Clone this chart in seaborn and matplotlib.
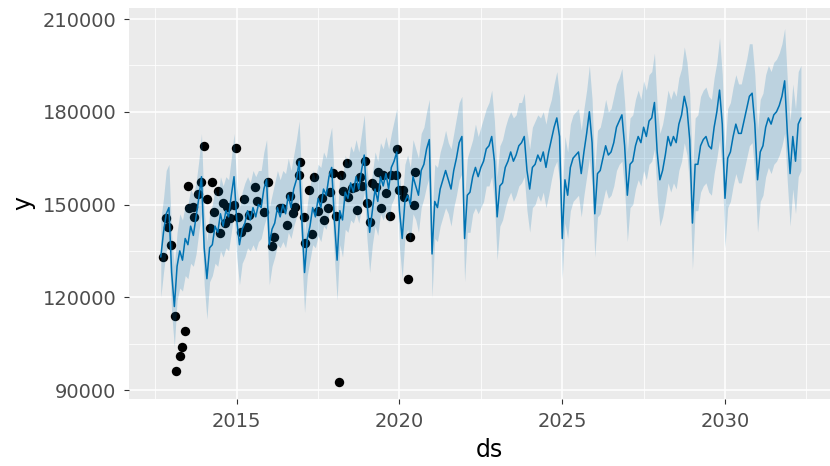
import numpy as np
import pandas as pd
import matplotlib
matplotlib.use("Agg")
import matplotlib.pyplot as plt
from matplotlib.ticker import FixedLocator, StrMethodFormatter
import seaborn as sns

# ---------------- data ----------------
# observed points: decimal year and value
obs_ds = [2012.735, 2012.835, 2012.887, 2012.966, 2013.088, 2013.140, 2013.262, 2013.314,
          2013.424, 2013.497, 2013.527, 2013.668, 2013.698, 2013.820, 2013.902, 2014.003,
          2014.085, 2014.177, 2014.229, 2014.290, 2014.412, 2014.482, 2014.564, 2014.643,
          2014.716, 2014.787, 2014.918, 2014.991, 2015.052, 2015.143, 2015.223, 2015.305,
          2015.375, 2015.558, 2015.631, 2015.832, 2015.954, 2016.088, 2016.159, 2016.320,
          2016.393, 2016.546, 2016.646, 2016.729, 2016.799, 2016.899, 2016.951, 2017.052,
          2017.104, 2017.235, 2017.308, 2017.387, 2017.509, 2017.613, 2017.683, 2017.814,
          2017.866, 2017.948, 2018.049, 2018.149, 2018.201, 2018.253, 2018.375, 2018.424,
          2018.527, 2018.628, 2018.710, 2018.780, 2018.851, 2018.933, 2019.003, 2019.085,
          2019.168, 2019.268, 2019.338, 2019.421, 2019.491, 2019.595, 2019.695, 2019.747,
          2019.878, 2019.918, 2020.000, 2020.101, 2020.152, 2020.253, 2020.335, 2020.436,
          2020.488]
obs_y = [133100, 145500, 142800, 136900, 114000, 96100, 101100, 104000,
         109100, 156000, 148800, 149100, 146000, 153400, 157200, 168900,
         151700, 142300, 157200, 147700, 154500, 140900, 150600, 143900,
         149300, 145500, 149800, 168400, 146000, 141200, 151700, 142600,
         146600, 155600, 151200, 147700, 157400, 136600, 139400, 149000,
         148800, 143400, 152700, 147100, 149300, 159500, 163800, 146000,
         137600, 154700, 140400, 159000, 147900, 152000, 145000, 149000,
         154100, 160100, 146400, 92700, 159500, 154400, 163300, 152300,
         155200, 155700, 148200, 158800, 156000, 164100, 150400, 144400,
         156800, 155700, 160600, 148800, 159500, 153800, 146400, 159500,
         159500, 167800, 154700, 154700, 152500, 125900, 139400, 149800,
         160600]

# monthly forecast, first month = September 2012 (values in thousands)
forecast_start = "2012-09-01"
yhat_k = [
    133, 141, 147, 149,                                          # 2012
    128, 117, 130, 135, 132, 139, 137, 143, 140, 146, 152, 159,  # 2013
    136, 126, 136, 137, 143, 141, 147, 143, 148, 146, 153, 159,  # 2014
    145, 137, 142, 144, 148, 145, 149, 146, 150, 149, 155, 158,  # 2015
    137, 142, 144, 149, 146, 150, 147, 153, 149, 155, 158, 164,  # 2016
    145, 128, 139, 143, 149, 146, 152, 149, 155, 153, 159, 162,  # 2017
    145, 132, 148, 145, 154, 152, 157, 154, 159, 155, 161, 166,  # 2018
    151, 141, 148, 155, 151, 159, 156, 160, 155, 162, 164, 167,  # 2019
    148, 139, 151, 153, 150, 159, 156, 153, 161, 163, 168, 171,  # 2020
    134, 151, 149, 155, 158, 161, 158, 155, 161, 165, 170, 172,  # 2021
    139, 153, 154, 159, 162, 159, 162, 164, 168, 169, 172, 164,  # 2022
    146, 156, 157, 162, 164, 167, 164, 166, 169, 170, 172, 161,  # 2023
    155, 162, 163, 166, 164, 167, 162, 167, 171, 175, 178, 172,  # 2024
    139, 158, 153, 162, 165, 166, 167, 160, 167, 173, 180, 170,  # 2025
    147, 160, 161, 165, 169, 166, 167, 170, 175, 177, 179, 169,  # 2026
    153, 163, 164, 169, 172, 170, 175, 172, 177, 178, 183, 167,  # 2027
    158, 161, 166, 172, 169, 172, 170, 176, 179, 185, 181, 171,  # 2028
    144, 163, 163, 169, 171, 172, 169, 168, 175, 180, 187, 176,  # 2029
    152, 165, 167, 172, 176, 173, 173, 177, 181, 185, 186, 176,  # 2030
    158, 167, 169, 175, 178, 176, 179, 180, 182, 185, 190, 173,  # 2031
    160, 172, 164, 176, 178,                                     # 2032
]
yhat_upper_k = [
    145, 152, 161, 163,
    140, 130, 141, 147, 145, 150, 150, 155, 153, 157, 164, 173,
    148, 138, 147, 150, 155, 152, 159, 156, 159, 158, 165, 173,
    156, 149, 154, 157, 159, 157, 161, 159, 161, 161, 167, 171,
    149, 153, 157, 161, 158, 161, 160, 165, 161, 166, 171, 177,
    157, 140, 150, 156, 161, 158, 163, 162, 167, 165, 171, 175,
    157, 144, 160, 158, 166, 163, 169, 167, 171, 167, 173, 179,
    162, 154, 160, 167, 164, 170, 168, 172, 168, 173, 177, 181,
    160, 151, 163, 166, 162, 171, 168, 165, 173, 175, 180, 184,
    146, 163, 162, 167, 170, 174, 170, 168, 173, 178, 183, 185,
    152, 165, 168, 171, 176, 172, 175, 178, 181, 183, 187, 177,
    159, 169, 171, 175, 178, 180, 178, 179, 183, 183, 186, 174,
    168, 175, 177, 179, 178, 180, 176, 181, 184, 189, 193, 185,
    153, 172, 167, 176, 179, 180, 181, 174, 181, 187, 195, 184,
    161, 174, 175, 179, 184, 180, 181, 185, 189, 191, 194, 183,
    167, 178, 179, 184, 187, 184, 190, 187, 192, 193, 199, 182,
    173, 176, 181, 187, 184, 187, 185, 191, 194, 201, 196, 186,
    160, 178, 179, 185, 187, 188, 185, 184, 191, 196, 204, 192,
    168, 181, 183, 188, 192, 189, 189, 193, 197, 202, 202, 192,
    174, 184, 186, 192, 195, 193, 196, 197, 199, 202, 207, 190,
    177, 189, 181, 193, 195,
]
yhat_lower_k = [
    120, 128, 135, 137,
    115, 104, 119, 123, 122, 127, 126, 131, 130, 134, 141, 147,
    124, 113, 125, 127, 131, 130, 135, 133, 136, 135, 141, 148,
    133, 124, 131, 133, 136, 135, 137, 135, 138, 139, 143, 146,
    124, 130, 133, 137, 136, 138, 136, 141, 139, 143, 146, 152,
    133, 115, 127, 132, 137, 136, 140, 138, 143, 142, 147, 150,
    133, 119, 137, 133, 142, 141, 145, 144, 147, 144, 149, 154,
    139, 128, 137, 143, 140, 147, 145, 148, 144, 150, 152, 155,
    136, 126, 139, 142, 138, 147, 145, 141, 149, 152, 156, 159,
    120, 139, 138, 143, 146, 149, 147, 143, 149, 153, 158, 160,
    125, 141, 141, 147, 149, 147, 149, 151, 156, 156, 159, 151,
    132, 143, 145, 149, 152, 154, 151, 153, 156, 157, 159, 148,
    141, 149, 150, 153, 151, 154, 149, 153, 158, 162, 164, 158,
    126, 144, 139, 148, 151, 152, 153, 146, 153, 159, 165, 156,
    133, 146, 147, 151, 155, 152, 153, 156, 161, 163, 164, 155,
    138, 149, 150, 155, 158, 156, 161, 158, 163, 164, 168, 153,
    143, 146, 151, 157, 154, 157, 155, 161, 164, 170, 166, 156,
    129, 148, 148, 154, 156, 157, 154, 153, 160, 165, 171, 161,
    136, 149, 151, 156, 160, 157, 157, 161, 165, 169, 170, 160,
    141, 151, 153, 159, 162, 160, 163, 164, 166, 169, 173, 157,
    143, 155, 147, 159, 161,
]

x_major = [2015, 2020, 2025, 2030]
x_minor = [2012.5, 2017.5, 2022.5, 2027.5, 2032.5]
y_major = [90000, 120000, 150000, 180000, 210000]
y_minor = [105000, 135000, 165000, 195000]

# ---------------- frames ----------------
months = pd.date_range(forecast_start, periods=len(yhat_k), freq="MS")
fc = pd.DataFrame({
    "ds": months.year + (months.month - 1) / 12.0,
    "yhat": np.array(yhat_k) * 1000,
    "yhat_lower": np.array(yhat_lower_k) * 1000,
    "yhat_upper": np.array(yhat_upper_k) * 1000,
})
obs = pd.DataFrame({"ds": obs_ds, "y": obs_y})

# ---------------- style ----------------
sns.set_theme(style="darkgrid")
plt.rcParams["font.family"] = ["DejaVu Sans"]

fig = plt.figure(figsize=(8.30, 4.66), dpi=100)
ax = fig.add_axes([129 / 830, (466 - 399) / 466, (849 - 129) / 830, (399 - 8) / 466])
ax.set_facecolor("#EBEBEB")

BLUE = "#0072B2"
sns.scatterplot(data=obs, x="ds", y="y", color="black", s=46, linewidth=0,
                ax=ax, zorder=2)
ax.fill_between(fc["ds"], fc["yhat_lower"], fc["yhat_upper"], color=BLUE,
                alpha=0.2, linewidth=0, zorder=3)
sns.lineplot(data=fc, x="ds", y="yhat", color=BLUE, linewidth=1.1, ax=ax, zorder=4)

ax.set_xlim(2011.69, 2033.81)
ax.set_ylim(87090, 213560)

ax.xaxis.set_major_locator(FixedLocator(x_major))
ax.xaxis.set_minor_locator(FixedLocator(x_minor))
ax.yaxis.set_major_locator(FixedLocator(y_major))
ax.yaxis.set_minor_locator(FixedLocator(y_minor))
ax.xaxis.set_major_formatter(StrMethodFormatter("{x:.0f}"))
ax.yaxis.set_major_formatter(StrMethodFormatter("{x:.0f}"))

ax.grid(which="major", color="white", linewidth=1.1)
ax.grid(which="minor", color="white", linewidth=0.55)
ax.set_axisbelow(True)
for s in ax.spines.values():
    s.set_visible(False)

ax.tick_params(axis="both", which="major", length=3.5, width=0.8, color="#333333",
               labelsize=14, labelcolor="#4D4D4D", bottom=True, left=True)
ax.tick_params(axis="x", which="major", pad=6)
ax.tick_params(axis="y", which="major", pad=5.5)
ax.tick_params(axis="both", which="minor", length=0)

ax.set_xlabel("ds", fontsize=17, color="black", labelpad=5)
ax.set_ylabel("y", fontsize=17, color="black", labelpad=5)

fig.savefig("out.png", dpi=100)
